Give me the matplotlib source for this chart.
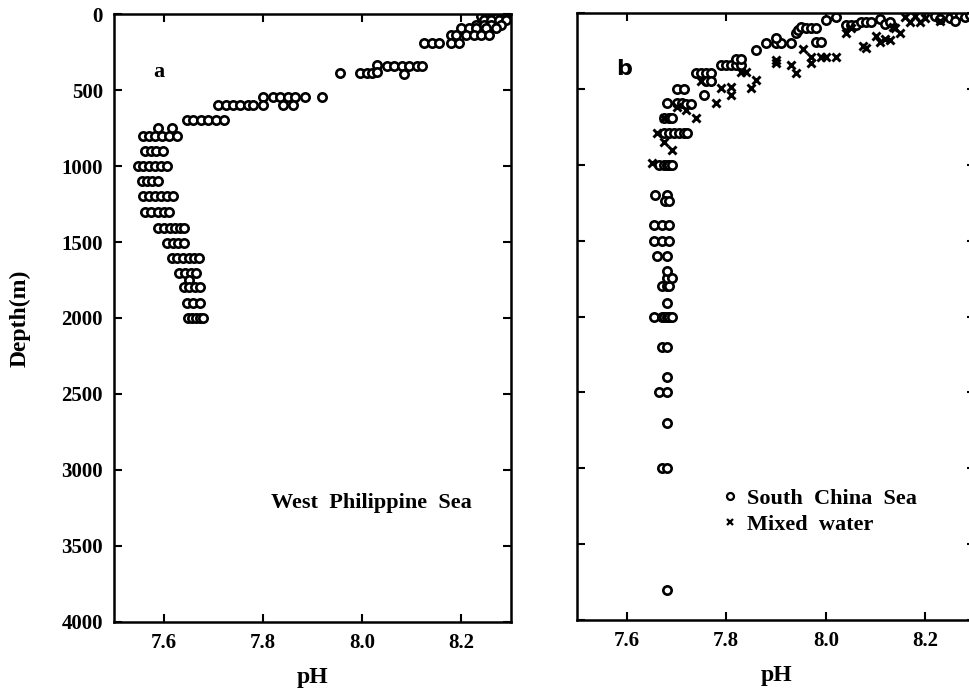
import matplotlib
matplotlib.use("Agg")
from matplotlib import pyplot as plt

plt.rcParams['font.family'] = ['Liberation Serif', 'DejaVu Serif']
plt.rcParams['font.weight'] = 'bold'

# panel a: West Philippine Sea (pH, depth m)
wps_ph = [8.245, 8.255, 8.265, 8.275, 8.285,
          8.24, 8.25, 8.26, 8.27, 8.28, 8.29,
          8.25, 8.27, 8.285,
          8.245, 8.26, 8.275, 8.29,
          8.23, 8.245, 8.26, 8.28,
          8.20, 8.215, 8.23, 8.25, 8.27,
          8.18, 8.19, 8.21, 8.225, 8.24, 8.255,
          8.125, 8.14, 8.155, 8.18, 8.195,
          8.05, 8.065, 8.08, 8.095, 8.11, 8.12,
          8.03,
          7.955, 7.995, 8.01, 8.02, 8.03, 8.085,
          7.80, 7.82, 7.835, 7.85, 7.865, 7.885, 7.92,
          7.80, 7.84, 7.86, 7.71, 7.725, 7.74, 7.755, 7.77, 7.78,
          7.648, 7.66, 7.675, 7.69, 7.705, 7.722,
          7.588, 7.616,
          7.558, 7.57, 7.583, 7.596, 7.61, 7.628,
          7.562, 7.575, 7.585, 7.598,
          7.548, 7.558, 7.57, 7.582, 7.594, 7.606,
          7.556, 7.566, 7.576, 7.588,
          7.558, 7.57, 7.582, 7.594, 7.606, 7.618,
          7.562, 7.575, 7.588, 7.6, 7.61,
          7.588, 7.6, 7.612, 7.624, 7.634, 7.642,
          7.606, 7.618, 7.63, 7.642,
          7.616, 7.628, 7.64, 7.652, 7.662, 7.672,
          7.632, 7.644, 7.656, 7.666,
          7.652,
          7.642, 7.652, 7.664, 7.674,
          7.648, 7.66, 7.674,
          7.65, 7.658, 7.666, 7.674, 7.68]
wps_depth = [5, 5, 5, 5, 5,
             15, 15, 15, 15, 15, 15,
             25, 25, 25,
             40, 40, 40, 40,
             75, 75, 75, 75,
             95, 95, 95, 95, 95,
             140, 140, 140, 140, 140, 140,
             190, 190, 190, 190, 190,
             345, 345, 345, 345, 345, 345,
             335,
             390, 390, 390, 385, 380, 395,
             545, 545, 545, 545, 545, 545, 545,
             600, 600, 600, 600, 600, 600, 600, 600, 600,
             700, 700, 700, 700, 700, 700,
             750, 750,
             800, 800, 800, 800, 800, 800,
             900, 900, 900, 900,
             1000, 1000, 1000, 1000, 1000, 1000,
             1100, 1100, 1100, 1100,
             1200, 1200, 1200, 1200, 1200, 1200,
             1305, 1305, 1305, 1305, 1305,
             1410, 1410, 1410, 1410, 1410, 1410,
             1505, 1505, 1505, 1505,
             1605, 1605, 1605, 1605, 1605, 1605,
             1705, 1705, 1705, 1705,
             1750,
             1795, 1795, 1795, 1795,
             1900, 1900, 1900,
             2000, 2000, 2000, 2000, 2000]

# panel b: South China Sea (circles)
scs_ph = [7.68, 7.67, 7.68, 7.68, 7.665, 7.68, 7.68, 7.67, 7.68,
          7.655, 7.67, 7.675, 7.68, 7.685, 7.69, 7.68,
          7.67, 7.68, 7.685, 7.68, 7.69, 7.68, 7.66, 7.68,
          7.655, 7.67, 7.685, 7.655, 7.67, 7.685,
          7.657, 7.68, 7.677, 7.685,
          7.665, 7.675, 7.68, 7.685, 7.69,
          7.675, 7.685, 7.695, 7.705, 7.715, 7.722,
          7.675, 7.685, 7.69,
          7.68, 7.70, 7.71, 7.72, 7.73,
          7.70, 7.715, 7.755,
          7.74, 7.75, 7.76, 7.77, 7.76, 7.77,
          7.79, 7.80, 7.81, 7.82, 7.83, 7.82, 7.83,
          7.86, 7.88, 7.90, 7.91, 7.93, 7.90,
          7.94, 7.945, 7.95, 7.96, 7.97, 7.98,
          7.98, 7.99, 8.00, 8.02,
          8.04, 8.05, 8.06, 8.07, 8.08, 8.09,
          8.11, 8.12, 8.13,
          8.22, 8.24, 8.25, 8.26, 8.27, 8.28, 8.29, 8.23, 8.26]
scs_depth = [3800, 3000, 3000, 2700, 2500, 2500, 2400, 2200, 2200,
             2000, 2000, 2000, 2000, 2000, 2000, 1910,
             1800, 1800, 1800, 1745, 1745, 1700, 1600, 1600,
             1500, 1500, 1500, 1400, 1400, 1400,
             1200, 1200, 1240, 1240,
             1000, 1000, 1000, 1000, 1000,
             790, 790, 790, 790, 790, 790,
             690, 690, 690,
             590, 590, 590, 600, 600,
             500, 500, 540,
             395, 395, 395, 395, 450, 450,
             340, 340, 340, 340, 340, 300, 300,
             245, 200, 200, 200, 195, 165,
             135, 110, 90, 100, 100, 100,
             190, 190, 45, 25,
             80, 80, 80, 60, 60, 60,
             40, 70, 60,
             20, 10, 30, 5, 15, 25, 10, 40, 50]

# panel b: mixed water (crosses)
mix_ph = [7.65, 7.69, 7.675, 7.66, 7.675, 7.74, 7.70, 7.72, 7.78,
          7.81, 7.81, 7.79, 7.75, 7.83, 7.84, 7.86, 7.85,
          7.90, 7.90, 7.93, 7.94, 7.955, 7.97, 7.97, 7.99, 8.00, 8.02,
          8.04, 8.05, 8.075, 8.08, 8.10, 8.11, 8.12, 8.13, 8.135,
          8.14, 8.15, 8.16, 8.17, 8.18, 8.19, 8.20, 8.23]
mix_depth = [990, 900, 850, 790, 690, 690, 620, 640, 594,
             540, 485, 495, 450, 388, 388, 440, 495,
             310, 330, 342, 395, 237, 330, 290, 290, 290, 290,
             135, 100, 220, 230, 150, 190, 170, 180, 90,
             100, 135, 25, 60, 20, 60, 30, 50]

fig = plt.figure(figsize=(9.69, 6.91), dpi=100)
ax1 = fig.add_axes([0.1176, 0.0999, 0.4097, 0.8798])
ax2 = fig.add_axes([0.5955, 0.1027, 0.4107, 0.8785])

ax1.plot(wps_ph, wps_depth, 'o', ms=6, mfc='white', mec='black', mew=1.9, ls='none')
ax2.plot(scs_ph, scs_depth, 'o', ms=6, mfc='white', mec='black', mew=1.9, ls='none',
         label='South  China  Sea')
ax2.plot(mix_ph, mix_depth, 'x', ms=5.5, mec='black', mew=2.1, ls='none',
         label='Mixed  water')

for ax in (ax1, ax2):
    ax.set_xlim(7.5, 8.3)
    ax.set_ylim(4000, 0)
    ax.set_xticks([7.6, 7.8, 8.0, 8.2])
    ax.set_xticklabels(['7.6', '7.8', '8.0', '8.2'])
    ax.set_yticks(range(0, 4001, 500))
    ax.tick_params(direction='in', length=6, width=1.5, top=True, right=True,
                   labelsize=15, pad=8)
    for sp in ax.spines.values():
        sp.set_linewidth(1.8)
    ax.set_xlabel('pH', fontsize=17, fontweight='bold', labelpad=10)

ax2.set_yticklabels([])
ax1.set_ylabel('Depth(m)', fontsize=17, fontweight='bold', labelpad=22)

ax1.text(7.59, 380, 'a', fontsize=16, fontweight='bold', ha='center', va='center')
ax2.text(7.595, 370, 'b', fontsize=16, fontweight='bold', ha='center', va='center',
         family='DejaVu Sans')
ax1.text(8.22, 3220, 'West  Philippine  Sea', fontsize=16, fontweight='bold',
         ha='right', va='center')

leg = ax2.legend(loc='upper left', bbox_to_anchor=(0.335, 0.232), frameon=False,
                 fontsize=16, handletextpad=0.25, labelspacing=0.25,
                 handlelength=1.0, borderaxespad=0)
for h in leg.legend_handles:
    h.set_markersize(5)
    h.set_markeredgewidth(1.6)

plt.savefig('out.png', dpi=100)
